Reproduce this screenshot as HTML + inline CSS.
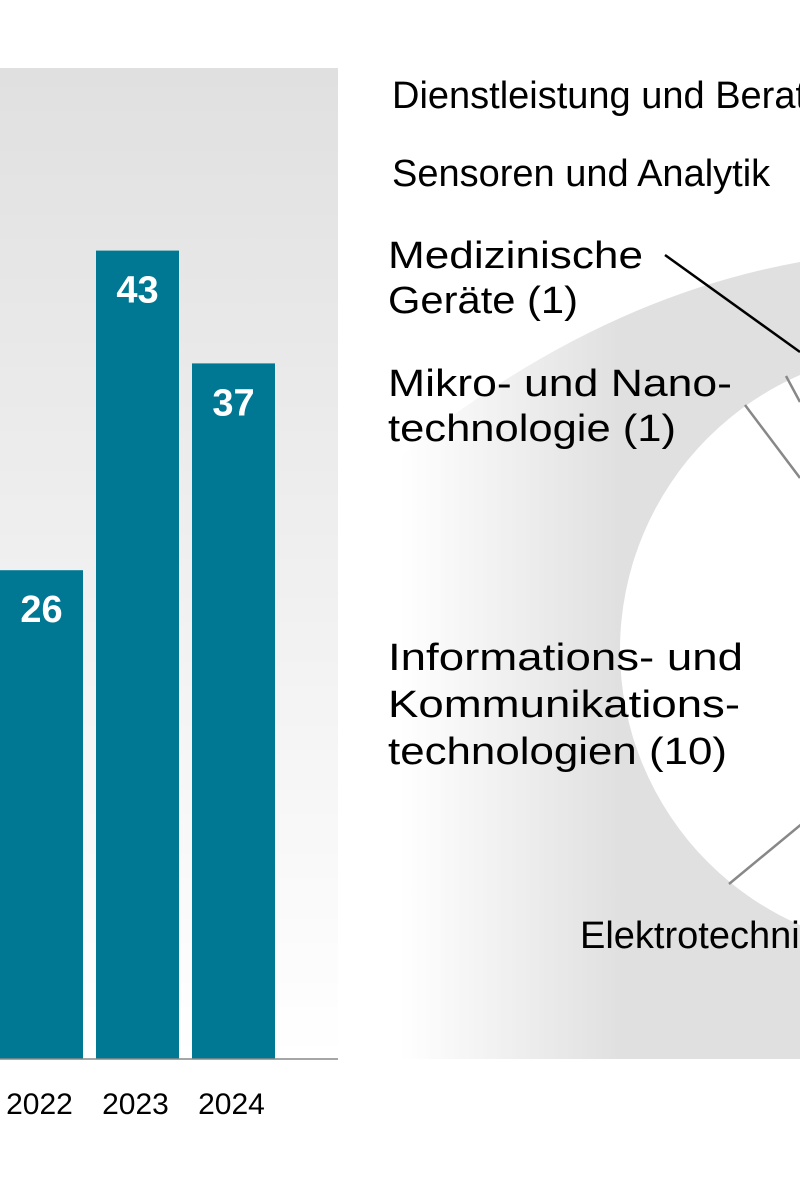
<!DOCTYPE html>
<html><head><meta charset="utf-8"><style>
html,body{margin:0;padding:0;background:#fff;width:800px;height:1200px;overflow:hidden}
svg{display:block;font-family:"Liberation Sans",sans-serif}
</style></head><body>
<svg id="chart" width="800" height="1200" viewBox="0 0 800 1200">
<defs>
<linearGradient id="barbg" x1="0" y1="0" x2="0" y2="1"><stop offset="0" stop-color="#e0e0e0"/><stop offset="1" stop-color="#ffffff"/></linearGradient>
<linearGradient id="piebg" x1="400" y1="0" x2="620" y2="0" gradientUnits="userSpaceOnUse"><stop offset="0" stop-color="#ffffff"/><stop offset="1" stop-color="#e0e0e0"/></linearGradient>
</defs>
<rect x="0" y="68" width="338" height="991" fill="url(#barbg)"/>
<g id="bars"></g>
<line x1="0" y1="1059" x2="338" y2="1059" stroke="#888" stroke-width="1.5"/>
<g>
<rect x="400" y="68" width="400" height="991" fill="url(#piebg)"/>
<path d="M398,68 L800,68 L800,262 Q590,300 398,458 Z" fill="#fff"/>
<circle cx="920" cy="650" r="300" fill="#fff"/>
<line x1="665" y1="255" x2="800" y2="352" stroke="#000" stroke-width="2.5"/>
<line x1="786" y1="376" x2="800" y2="402" stroke="#888" stroke-width="2.5"/>
<line x1="745" y1="405" x2="800" y2="478" stroke="#888" stroke-width="2.5"/>
<line x1="729" y1="884" x2="815" y2="813" stroke="#888" stroke-width="2.5"/>
<g font-size="38" fill="#000">
<text x="392" y="108">Dienstleistung und Beratung</text>
<text x="392" y="186">Sensoren und Analytik</text>
<text x="388" y="268" textLength="255" lengthAdjust="spacingAndGlyphs">Medizinische</text>
<text x="388" y="313" textLength="190" lengthAdjust="spacingAndGlyphs">Geräte (1)</text>
<text x="388" y="396" textLength="344" lengthAdjust="spacingAndGlyphs">Mikro- und Nano-</text>
<text x="388" y="441" textLength="288" lengthAdjust="spacingAndGlyphs">technologie (1)</text>
<text x="388" y="670" textLength="355" lengthAdjust="spacingAndGlyphs">Informations- und</text>
<text x="388" y="717" textLength="352" lengthAdjust="spacingAndGlyphs">Kommunikations-</text>
<text x="388" y="764" textLength="339" lengthAdjust="spacingAndGlyphs">technologien (10)</text>
<text x="580" y="948">Elektrotechnik</text>
</g>
</g>
</svg>
<script>
const years = ["2022","2023","2024"];
const counts = [26,43,37];
const NS="http://www.w3.org/2000/svg";
const baseY=1059, unit=18.8, x0=0, step=96, bw=83;
function yOf(v){return baseY - v*unit;}
function xOf(i){return x0 + i*step;}
const g=document.getElementById('bars');
years.forEach((yr,i)=>{
  const r=document.createElementNS(NS,'rect');
  r.setAttribute('x',xOf(i)); r.setAttribute('y',yOf(counts[i]));
  r.setAttribute('width',bw); r.setAttribute('height',baseY-yOf(counts[i]));
  r.setAttribute('fill','#007893');
  
  
  g.appendChild(r);
  const v=document.createElementNS(NS,'text');
  v.setAttribute('x',xOf(i)+bw/2); v.setAttribute('y',yOf(counts[i])+52);
  v.setAttribute('text-anchor','middle'); v.setAttribute('fill','#fff');
  v.setAttribute('font-size','38'); v.setAttribute('font-weight','bold');
  v.textContent=counts[i];
  
  
  g.appendChild(v);
  const t=document.createElementNS(NS,'text');
  t.setAttribute('x',xOf(i)+bw/2-2); t.setAttribute('y',1114);
  t.setAttribute('text-anchor','middle'); t.setAttribute('fill','#000');
  t.setAttribute('font-size','30');
  t.textContent=yr;
  
  
  g.appendChild(t);
});
</script>
</body></html>
